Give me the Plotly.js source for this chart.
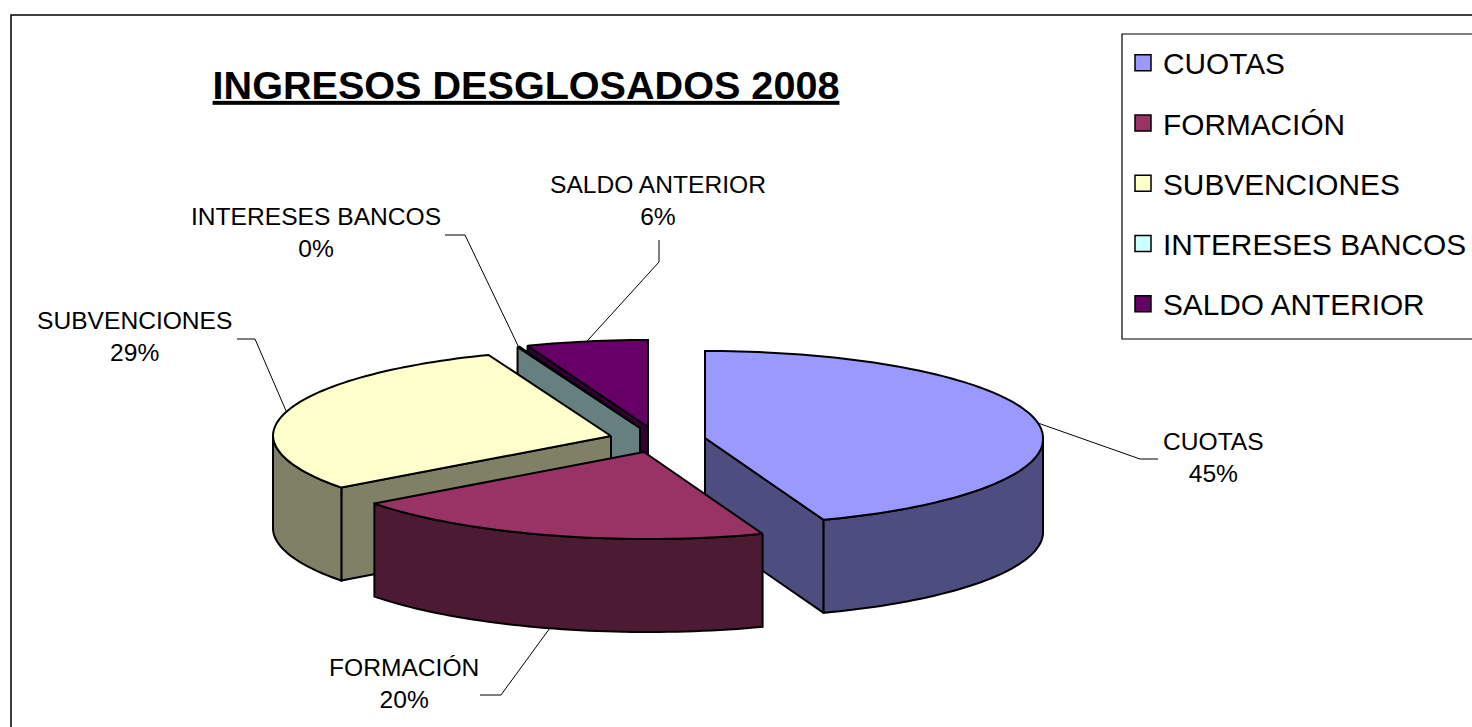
<!DOCTYPE html>
<html>
<head>
<meta charset="utf-8">
<script src="https://cdn.plot.ly/plotly-3.0.1.min.js"></script>
<style>html,body{margin:0;padding:0;background:#fff}#chart{width:1472px;height:727px}</style>
</head>
<body>
<div id="chart"></div>
<script>
// ---- data ----
const categories = ["CUOTAS", "FORMACIÓN", "SUBVENCIONES", "INTERESES BANCOS", "SALDO ANTERIOR"];
const shares = [44.5, 20.4, 29.2, 0.1, 5.8];
const chartTitle = "INGRESOS DESGLOSADOS 2008";

// ---- styles and drawing geometry ----
const topColors = ["#9999FF", "#993366", "#FFFFCC", "#CCFFFF", "#660066"];
const wallColors = ["#4D4D80", "#4D1A33", "#808066", "#668080", "#330033"];
const apexes = [[705, 438], [644, 452], [611, 436], [640, 428], [648, 427]];
const RX = 338, RY = 87, DEPTH = 93, FRONT_SHEAR = 0.05;
const drawOrder = [4, 3, 2, 0, 1];
const labelPos = [[1213, 457], [404, 683], [134, 336], [316, 232], [658, 200]];
const elbows = [[[1140, 459], [1158, 459]], [[501, 695], [480, 695]], [[255, 339], [237, 339]],
                [[465, 235], [445, 235]], [[659, 262], [659, 240]]];

const total = shares.reduce((a, b) => a + b, 0);
const spans = [];
shares.reduce((acc, v) => { spans.push([acc, acc + v * 360 / total]); return acc + v * 360 / total; }, 0);
const rad = d => d * Math.PI / 180;
function rim(i, deg, drop) {
  const dy = -RY * Math.cos(rad(deg));
  return [apexes[i][0] + RX * Math.sin(rad(deg)) + FRONT_SHEAR * Math.max(dy, 0), apexes[i][1] + dy + (drop || 0)];
}
function arc(i, a, b, drop) {
  const n = Math.max(2, Math.ceil(Math.abs(b - a) / 1.5));
  const pts = [];
  for (let k = 0; k <= n; k++) pts.push(rim(i, a + (b - a) * k / n, drop));
  return pts;
}
function poly(pts, fill) {
  const closed = pts.concat([pts[0]]);
  return { type: "scatter", mode: "lines", x: closed.map(p => p[0]), y: closed.map(p => p[1]),
    fill: "toself", fillcolor: fill, line: { color: "#000", width: 2, simplify: false },
    hoverinfo: "skip", showlegend: false };
}

const traces = [];
drawOrder.forEach(i => {
  const [a, b] = spans[i];
  const ap = apexes[i], apLow = [ap[0], ap[1] + DEPTH];
  const cutWall = deg => traces.push(poly([ap, rim(i, deg), rim(i, deg, DEPTH), apLow], wallColors[i]));
  if (Math.sin(rad(a)) < 0) cutWall(a);   // start face turned to the viewer
  if (Math.sin(rad(b)) > 1e-9) cutWall(b);   // end face turned to the viewer
  const fa = Math.max(a, 90), fb = Math.min(b, 270);
  if (fb > fa) traces.push(poly(arc(i, fa, fb, 0).concat(arc(i, fb, fa, DEPTH)), wallColors[i]));
  traces.push(poly([ap].concat(arc(i, a, b, 0)), topColors[i]));
});

// leader lines from the rim of each slice to its label
categories.forEach((c, i) => {
  const mid = (spans[i][0] + spans[i][1]) / 2;
  const front = mid > 90 && mid < 270;
  const s = rim(i, mid, front ? DEPTH : 0);
  const pts = [s].concat(elbows[i]);
  traces.push({ type: "scatter", mode: "lines", x: pts.map(p => p[0]), y: pts.map(p => p[1]),
    line: { color: "#000", width: 1 }, hoverinfo: "skip", showlegend: false });
});

// legend entries
categories.forEach((c, i) => traces.push({ type: "scatter", mode: "markers", x: [null], y: [null], name: c,
  legendgroup: c, showlegend: true, hoverinfo: "skip",
  marker: { symbol: "square", size: 16, color: topColors[i], line: { color: "#000", width: 1.5 } } }));

const annotations = categories.map((c, i) => ({
  x: labelPos[i][0], y: labelPos[i][1], xref: "x", yref: "y", xanchor: "center", yanchor: "middle",
  text: c + "<br>" + Math.round(shares[i] * 100 / total) + "%", showarrow: false, align: "center",
  font: { family: "Liberation Sans", size: 24.6, color: "#000" }
}));

const layout = {
  width: 1472, height: 727, margin: { l: 0, r: 0, t: 0, b: 0 },
  paper_bgcolor: "#fff", plot_bgcolor: "#fff", hovermode: false,
  title: { text: "<b><u>" + chartTitle + "</u></b>", x: 526 / 1472, xanchor: "center", y: 1 - 85 / 727, yanchor: "middle",
    font: { family: "Liberation Sans", size: 39.6, color: "#000" } },
  xaxis: { range: [0, 1472], visible: false, fixedrange: true },
  yaxis: { range: [727, 0], visible: false, fixedrange: true },
  showlegend: true,
  legend: { x: 1123 / 1472, xanchor: "left", y: 1 - 37 / 727, yanchor: "top", bgcolor: "rgba(0,0,0,0)", borderwidth: 0,
    traceorder: "grouped", tracegroupgap: 18.5, font: { family: "Liberation Sans", size: 29.8, color: "#000" } },
  shapes: [
    { type: "rect", xref: "x", yref: "y", x0: 11, y0: 15, x1: 1500, y1: 760, line: { color: "#000", width: 1.5 }, layer: "below" },
    { type: "rect", xref: "x", yref: "y", x0: 1122, y0: 34, x1: 1500, y1: 339, line: { color: "#000", width: 1.2 }, layer: "below" }
  ],
  annotations
};
Plotly.newPlot("chart", traces, layout, { displayModeBar: false, staticPlot: true });
</script>
</body>
</html>
